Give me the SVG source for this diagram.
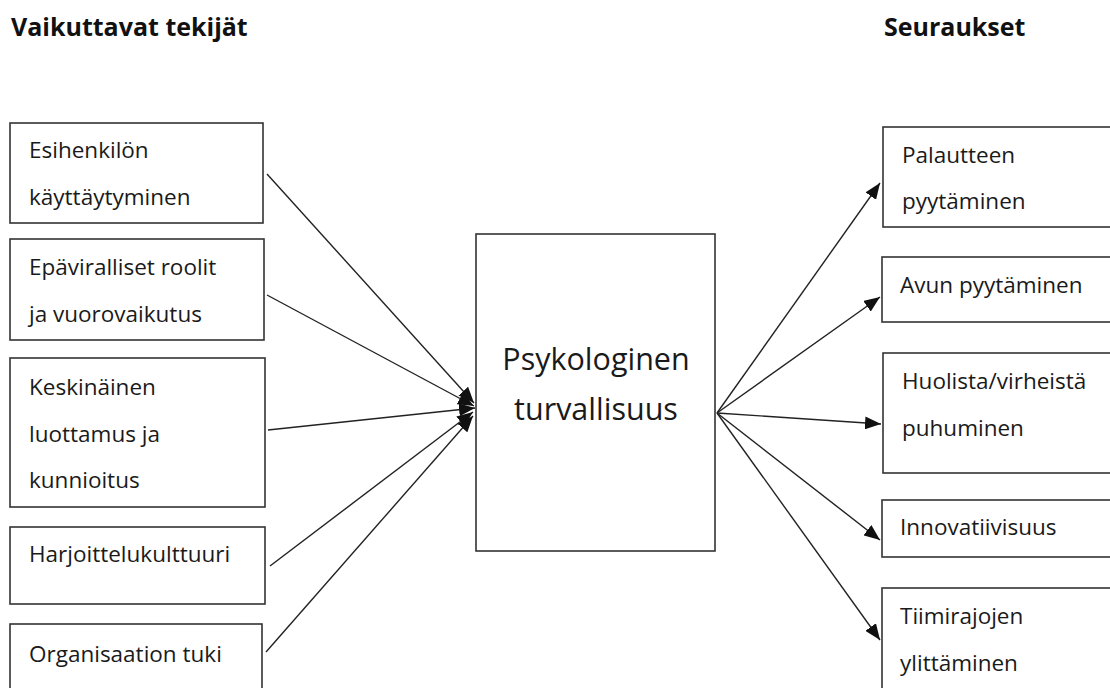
<svg xmlns="http://www.w3.org/2000/svg" width="1110" height="688" viewBox="0 0 1110 688">
  <defs>
    <marker id="arrow" markerUnits="userSpaceOnUse" markerWidth="17" markerHeight="13" refX="16" refY="6.5" orient="auto">
      <path d="M0,0 L16,6.5 L0,13 z" fill="#111"/>
    </marker>
    <style>
      .box { fill: #fff; stroke: #333; stroke-width: 1.6; }
      .t { font-family: "Open Sans", "Noto Sans", sans-serif; font-size: 22.5px; fill: #1a1a1a; }
      .center { font-family: "Open Sans", "Noto Sans", sans-serif; font-size: 30.5px; fill: #1a1a1a; text-anchor: middle; }
      .title { font-family: "Open Sans", "Noto Sans", sans-serif; font-size: 25px; font-weight: bold; fill: #111; }
      .conn { stroke: #222; stroke-width: 1.4; fill: none; marker-end: url(#arrow); }
    </style>
  </defs>
  <rect width="1110" height="688" fill="#fff"/>

  <text class="title" x="11" y="36">Vaikuttavat tekijät</text>
  <text class="title" x="884" y="36">Seuraukset</text>

  <g id="connectors">
    <line class="conn" x1="267" y1="174" x2="474" y2="403"/>
    <line class="conn" x1="267" y1="295" x2="474" y2="406"/>
    <line class="conn" x1="268" y1="430" x2="475" y2="408"/>
    <line class="conn" x1="270" y1="566" x2="473" y2="412"/>
    <line class="conn" x1="266" y1="652" x2="473" y2="416"/>
    <line class="conn" x1="717" y1="413" x2="880" y2="183"/>
    <line class="conn" x1="717" y1="413" x2="880" y2="297"/>
    <line class="conn" x1="717" y1="413" x2="881" y2="424"/>
    <line class="conn" x1="717" y1="413" x2="880" y2="540"/>
    <line class="conn" x1="717" y1="413" x2="880" y2="640"/>
  </g>

  <g id="n-esihenkilo">
    <rect class="box" x="10" y="123" width="253" height="100"/>
    <text class="t" x="29" y="158">Esihenkilön</text>
    <text class="t" x="29" y="205">käyttäytyminen</text>
  </g>
  <g id="n-epaviralliset">
    <rect class="box" x="10" y="239" width="254" height="101"/>
    <text class="t" x="29" y="275">Epäviralliset roolit</text>
    <text class="t" x="29" y="322">ja vuorovaikutus</text>
  </g>
  <g id="n-keskinainen">
    <rect class="box" x="10" y="358" width="255" height="149"/>
    <text class="t" x="29" y="395">Keskinäinen</text>
    <text class="t" x="29" y="442">luottamus ja</text>
    <text class="t" x="29" y="488">kunnioitus</text>
  </g>
  <g id="n-harjoittelu">
    <rect class="box" x="10" y="527" width="255" height="77"/>
    <text class="t" x="29" y="562">Harjoittelukulttuuri</text>
  </g>
  <g id="n-organisaatio">
    <rect class="box" x="10" y="624" width="252" height="80"/>
    <text class="t" x="29" y="662">Organisaation tuki</text>
  </g>

  <g id="n-psykologinen">
    <rect class="box" x="476" y="234" width="239" height="317"/>
    <text class="center" x="596" y="370">Psykologinen</text>
    <text class="center" x="596" y="420">turvallisuus</text>
  </g>

  <g id="n-palaute">
    <rect class="box" x="883" y="127" width="240" height="100"/>
    <text class="t" x="902" y="163">Palautteen</text>
    <text class="t" x="902" y="209">pyytäminen</text>
  </g>
  <g id="n-avun">
    <rect class="box" x="882" y="257" width="240" height="65"/>
    <text class="t" x="900" y="293">Avun pyytäminen</text>
  </g>
  <g id="n-huolista">
    <rect class="box" x="883" y="353" width="240" height="120"/>
    <text class="t" x="902" y="389">Huolista/virheistä</text>
    <text class="t" x="902" y="436">puhuminen</text>
  </g>
  <g id="n-innovatiivisuus">
    <rect class="box" x="882" y="500" width="240" height="57"/>
    <text class="t" x="900" y="535">Innovatiivisuus</text>
  </g>
  <g id="n-tiimirajojen">
    <rect class="box" x="882" y="588" width="240" height="120"/>
    <text class="t" x="900" y="624">Tiimirajojen</text>
    <text class="t" x="900" y="671">ylittäminen</text>
  </g>
</svg>
